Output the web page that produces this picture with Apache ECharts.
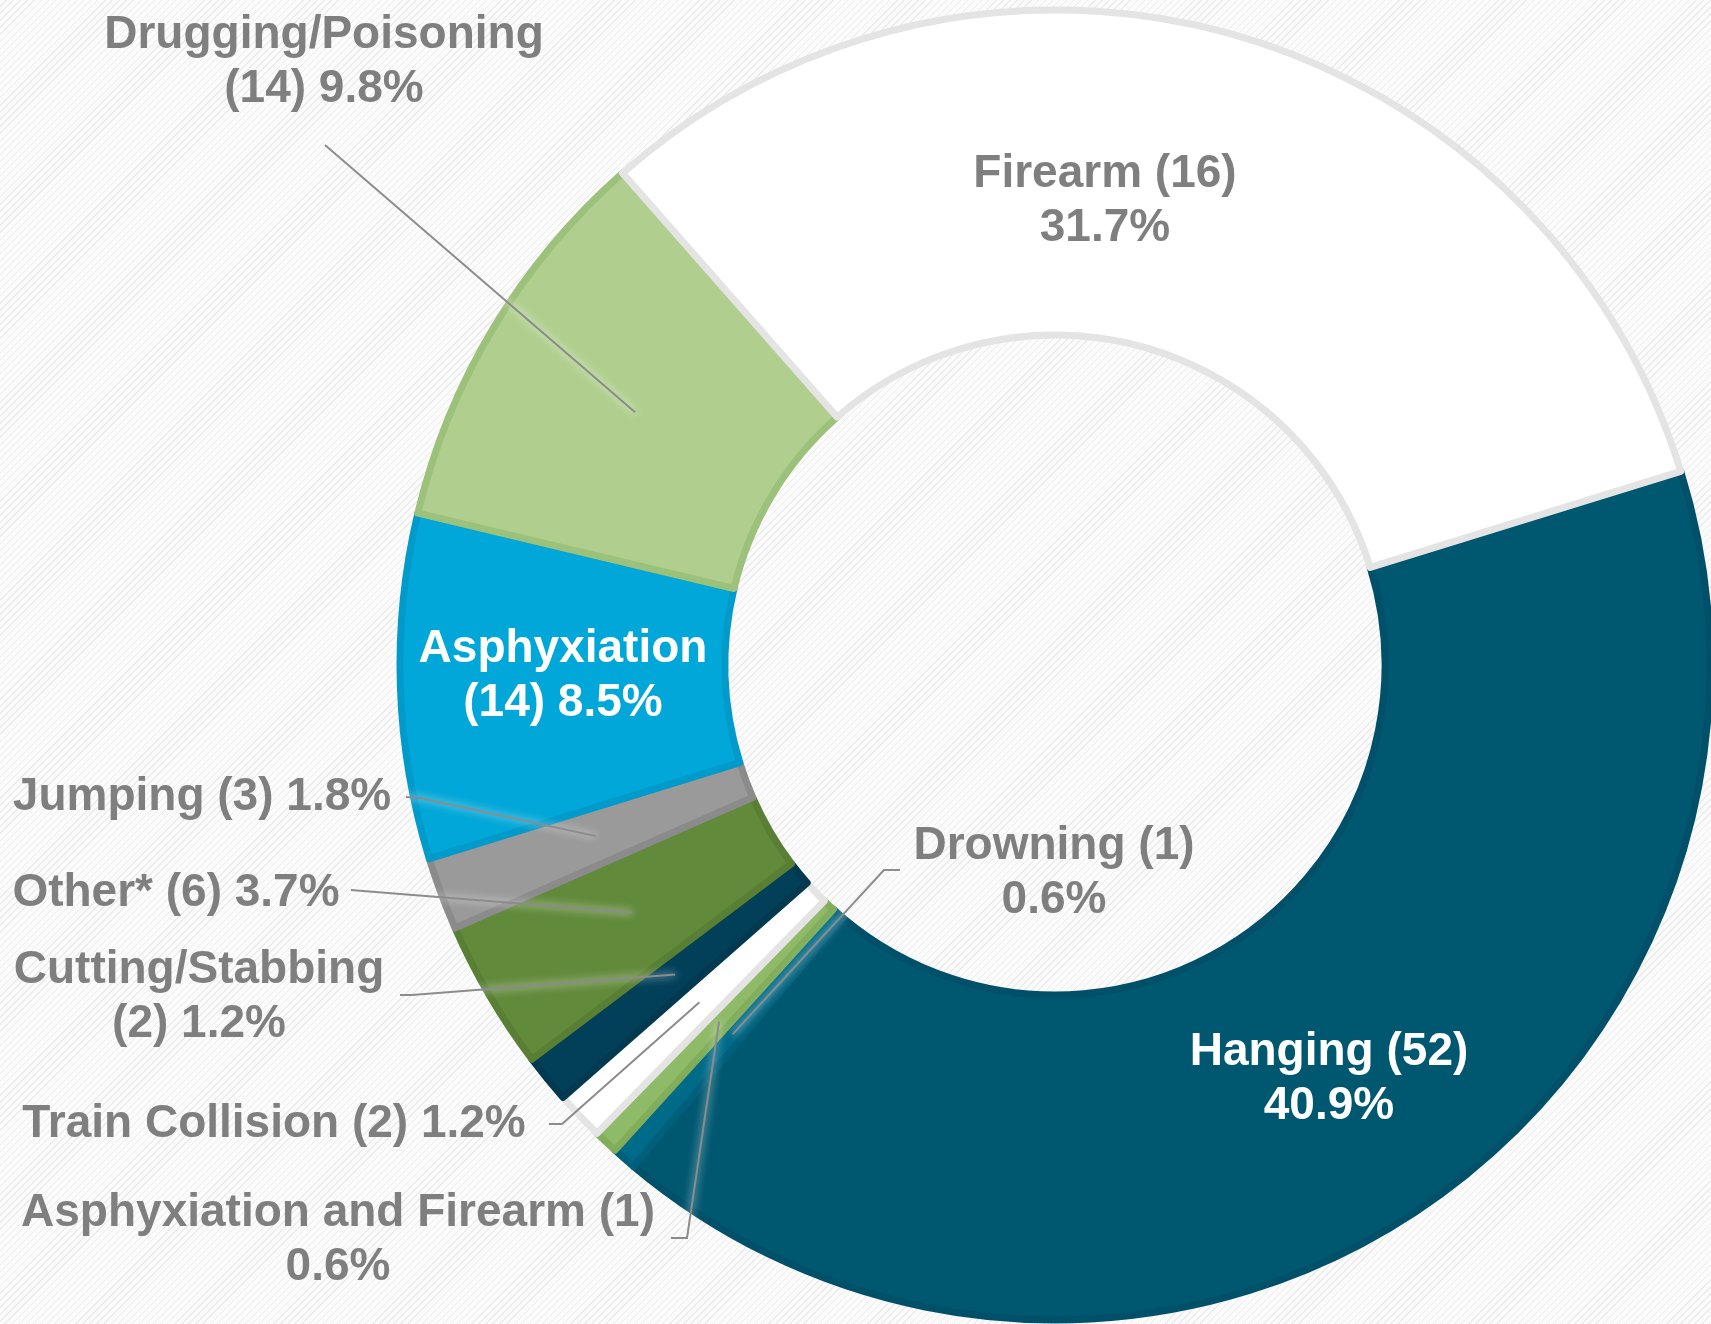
<!DOCTYPE html>
<html>
<head>
<meta charset="utf-8">
<script src="https://cdn.jsdelivr.net/npm/echarts@6/dist/echarts.min.js"></script>
<style>
  html, body { margin: 0; padding: 0; }
  body {
    width: 1711px; height: 1324px; overflow: hidden;
    background-color: #fbfbfb;
    background-image: repeating-linear-gradient(135deg, #fbfbfb 0px, #fbfbfb 4px, #ececec 4px, #ececec 5px);
  }
  #chart { width: 1711px; height: 1324px; }
</style>
</head>
<body>
<div id="chart"></div>
<script>
// ---- data (clockwise from the Firearm/Hanging boundary) ----
const categories = ['Hanging', 'Drowning', 'Asphyxiation and Firearm', 'Train Collision',
  'Cutting/Stabbing', 'Other*', 'Jumping', 'Asphyxiation', 'Drugging/Poisoning', 'Firearm'];
const counts   = [52, 1, 1, 2, 2, 6, 3, 14, 14, 16];
const percents = [40.9, 0.6, 0.6, 1.2, 1.2, 3.7, 1.8, 8.5, 9.8, 31.7];

// ---- styles ----
const fills   = ['#005870', '#006a89', '#8fba68', '#ffffff', '#02405a', '#628a3b', '#9a9a9a', '#00a7d8', '#b0cf8e', '#ffffff'];
const borders = ['#00506a', '#00607c', '#82ae5c', '#e4e4e4', '#013a50', '#587f33', '#8b8b8b', '#009bcb', '#9cc17a', '#e4e4e4'];
const labelColors = ['#ffffff', '#7f7f7f', '#7f7f7f', '#7f7f7f', '#7f7f7f', '#7f7f7f', '#7f7f7f', '#ffffff', '#7f7f7f', '#7f7f7f'];
// where the line break goes: 'name' = after name, 'count' = after count, 'none'
const breaks = ['count', 'count', 'count', 'none', 'name', 'none', 'none', 'name', 'name', 'count'];

// ---- label layout (positions of label centres and leader-line bends) ----
const labelPos = [
  { x: 1329, y: 1079 },
  { x: 1054, y: 873,  guide: [[884, 870], [900, 870]] },
  { x: 338,  y: 1240, guide: [[687, 1238], [671, 1238]] },
  { x: 274,  y: 1124, guide: [[562, 1124], [549, 1124]] },
  { x: 199,  y: 997,  guide: [[412, 995], [400, 995]] },
  { x: 176,  y: 893,  guide: [[363, 891], [351, 890]] },
  { x: 202,  y: 797,  guide: [[420, 798], [406, 797]] },
  { x: 563,  y: 676 },
  { x: 324,  y: 62,   guide: [[325, 145], [325, 145]] },
  { x: 1105, y: 201 }
];

function labelText(i) {
  const n = categories[i], c = '(' + counts[i] + ')', p = percents[i].toFixed(1) + '%';
  if (breaks[i] === 'name') return n + '\n' + c + ' ' + p;
  if (breaks[i] === 'count') return n + ' ' + c + '\n' + p;
  return n + ' ' + c + ' ' + p;
}

const ringData = categories.map((name, i) => ({
  name, value: percents[i],
  itemStyle: { color: fills[i], borderColor: borders[i] }
}));

const labelData = categories.map((name, i) => ({
  name, value: percents[i],
  label: { color: labelColors[i] },
  labelLine: { show: !!labelPos[i].guide }
}));

const chart = echarts.init(document.getElementById('chart'), null, { renderer: 'canvas' });
chart.setOption({
  backgroundColor: 'transparent',
  animation: false,
  series: [
    {
      type: 'pie',
      z: 1,
      center: [1055, 665],
      radius: [330, 655],
      startAngle: 17.2,
      clockwise: true,
      silent: true,
      label: { show: false },
      labelLine: { show: false },
      itemStyle: { borderWidth: 7 },
      data: ringData
    },
    {
      type: 'pie',
      z: 5,
      center: [1055, 665],
      radius: [0, 490],
      startAngle: 17.2,
      clockwise: true,
      silent: true,
      avoidLabelOverlap: false,
      itemStyle: { color: 'rgba(0,0,0,0)', borderWidth: 0 },
      label: {
        show: true,
        position: 'outside',
        formatter: (p) => labelText(p.dataIndex),
        fontFamily: '"Liberation Sans", Arial, sans-serif',
        fontWeight: 'bold',
        fontSize: 46,
        lineHeight: 54
      },
      labelLine: {
        show: true,
        length: 10,
        length2: 10,
        lineStyle: { color: '#8c8c8c', width: 2, shadowColor: 'rgba(255,255,255,0.95)', shadowBlur: 8 }
      },
      labelLayout: function (p) {
        const L = labelPos[p.dataIndex];
        const out = { x: L.x, y: L.y, align: 'center', verticalAlign: 'middle' };
        if (L.guide && p.labelLinePoints && p.labelLinePoints.length) {
          out.labelLinePoints = [p.labelLinePoints[0]].concat(L.guide);
        }
        return out;
      },
      data: labelData
    }
  ]
});
</script>
</body>
</html>
